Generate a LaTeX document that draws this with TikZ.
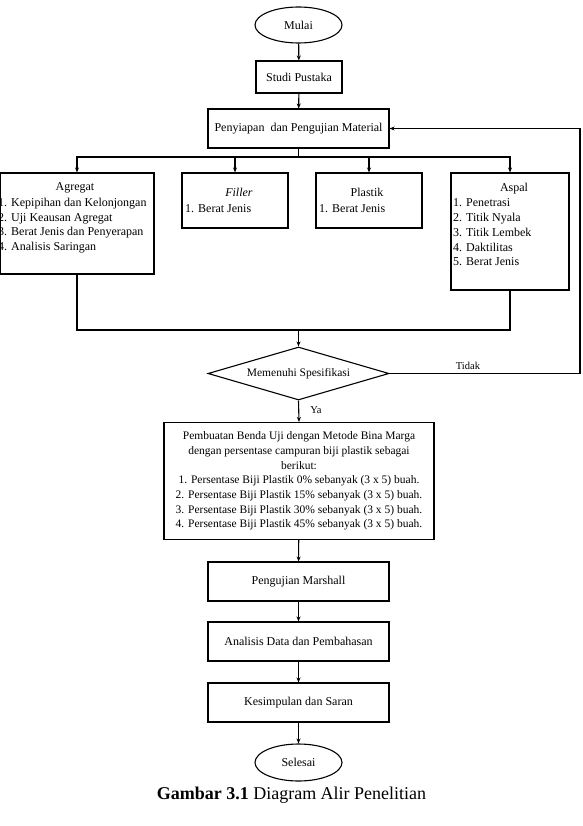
\documentclass[tikz,border=0pt]{standalone}
\usepackage{fontspec}
\setmainfont{Liberation Serif}
\usetikzlibrary{shapes.geometric,arrows.meta}
\tikzset{
  boxf/.style={draw, line width=1.1pt, rectangle, inner sep=0pt, font=\fontsize{12}{14.7}\selectfont},
  ovalf/.style={draw, line width=1.1pt, ellipse, inner sep=0pt, font=\fontsize{12}{14.7}\selectfont},
  lst/.style={inner sep=0pt, align=left, anchor=north west, font=\fontsize{12}{14.7}\selectfont},
  ttl/.style={inner sep=0pt, anchor=base, font=\fontsize{12}{14.7}\selectfont},
  lnk/.style={line width=1.1pt},
  arr/.style={line width=1.1pt, -{Stealth[length=5pt,width=4pt]}},
  lbl/.style={inner sep=0pt, font=\fontsize{10.5}{12}\selectfont}
}
\begin{document}
\begin{tikzpicture}[x=1pt,y=-1pt]
\useasboundingbox (0,0) rectangle (582,826);
% main column
\node[ovalf, minimum width=87, minimum height=36] (mulai) at (298.5,25) {Mulai};
\node[boxf, minimum width=86, minimum height=32] (studi) at (299,77) {Studi Pustaka};
\node[boxf, minimum width=181, minimum height=39] (siap) at (298.5,128.5) {Penyiapan\ \ dan Pengujian Material};
% material boxes
\node[boxf, minimum width=154, minimum height=101] (agg) at (77,223.5) {};
\node[boxf, minimum width=106, minimum height=55] (fil) at (235,200.5) {};
\node[boxf, minimum width=106, minimum height=55] (pla) at (369,200.5) {};
\node[boxf, minimum width=118, minimum height=117] (asp) at (510,231.5) {};
% texts in material boxes
\node[ttl] (aggt) at (75,191) {Agregat};
\node[lst] (aggl) at (-2,197.8) {1. Kepipihan dan Kelonjongan\\2. Uji Keausan Agregat\\3. Berat Jenis dan Penyerapan\\4. Analisis Saringan};
\node[ttl] (filt) at (239,197) {\textit{Filler}};
\node[ttl, anchor=base west] (fill) at (185,212) {1. Berat Jenis};
\node[ttl] (plat) at (367,197) {Plastik};
\node[ttl, anchor=base west] (plal) at (319,212) {1. Berat Jenis};
\node[ttl] (aspt) at (514,192) {Aspal};
\node[lst] (aspl) at (453,198.8) {1. Penetrasi\\2. Titik Nyala\\3. Titik Lembek\\4. Daktilitas\\5. Berat Jenis};
% decision
\node[draw, line width=1.1pt, diamond, aspect=3.4, minimum width=181, minimum height=53, inner sep=0pt, font=\fontsize{11.5}{13}\selectfont] (dia) at (298.5,373.5) {Memenuhi Spesifikasi};
\node[boxf, minimum width=270, minimum height=117, align=center, font=\fontsize{11.5}{14.7}\selectfont] (pemb) at (299,481) {Pembuatan Benda Uji dengan Metode Bina Marga\\dengan persentase campuran biji plastik sebagai\\berikut:\\1. Persentase Biji Plastik 0\% sebanyak (3 x 5) buah.\\2. Persentase Biji Plastik 15\% sebanyak (3 x 5) buah.\\3. Persentase Biji Plastik 30\% sebanyak (3 x 5) buah.\\4. Persentase Biji Plastik 45\% sebanyak (3 x 5) buah.};
\node[boxf, minimum width=181, minimum height=39] (mar) at (298.5,581.5) {Pengujian Marshall};
\node[boxf, minimum width=181, minimum height=39] (ana) at (298.5,641.5) {Analisis Data dan Pembahasan};
\node[boxf, minimum width=181, minimum height=39] (kes) at (298.5,702.5) {Kesimpulan dan Saran};
\node[ovalf, minimum width=87, minimum height=37] (sel) at (298.5,762.5) {Selesai};
\node[inner sep=0pt, anchor=base, font=\fontsize{18}{20}\selectfont] (cap) at (291.5,799) {\textbf{Gambar 3.1} Diagram Alir Penelitian};
% labels
\node[lbl] (tidak) at (468,366) {Tidak};
\node[lbl] (ya) at (316,410) {Ya};
% coordinates
\coordinate (br) at (298.5,157);
\coordinate (jn) at (298.5,330);
\coordinate (lpa) at (580,373.5);
\coordinate (lpb) at (580,128.5);
% connectors
\draw[arr] (mulai) -- (studi);
\draw[arr] (studi) -- (siap);
\draw[lnk] (siap.south) -- (br);
\draw[arr] (br) -| (agg.north);
\draw[arr] (br) -| (asp.north);
\draw[arr] (fil.north |- br) -- (fil.north);
\draw[arr] (pla.north |- br) -- (pla.north);
\draw[lnk] (agg.south) |- (jn);
\draw[lnk] (asp.south) |- (jn);
\draw[arr] (jn) -- (dia.north);
\draw[arr] (dia.east) -- (lpa) -- (lpb) -- (siap.east);
\draw[arr] (dia.south) -- (pemb.north);
\draw[arr] (pemb) -- (mar);
\draw[arr] (mar) -- (ana);
\draw[arr] (ana) -- (kes);
\draw[arr] (kes) -- (sel);
\end{tikzpicture}
\end{document}
